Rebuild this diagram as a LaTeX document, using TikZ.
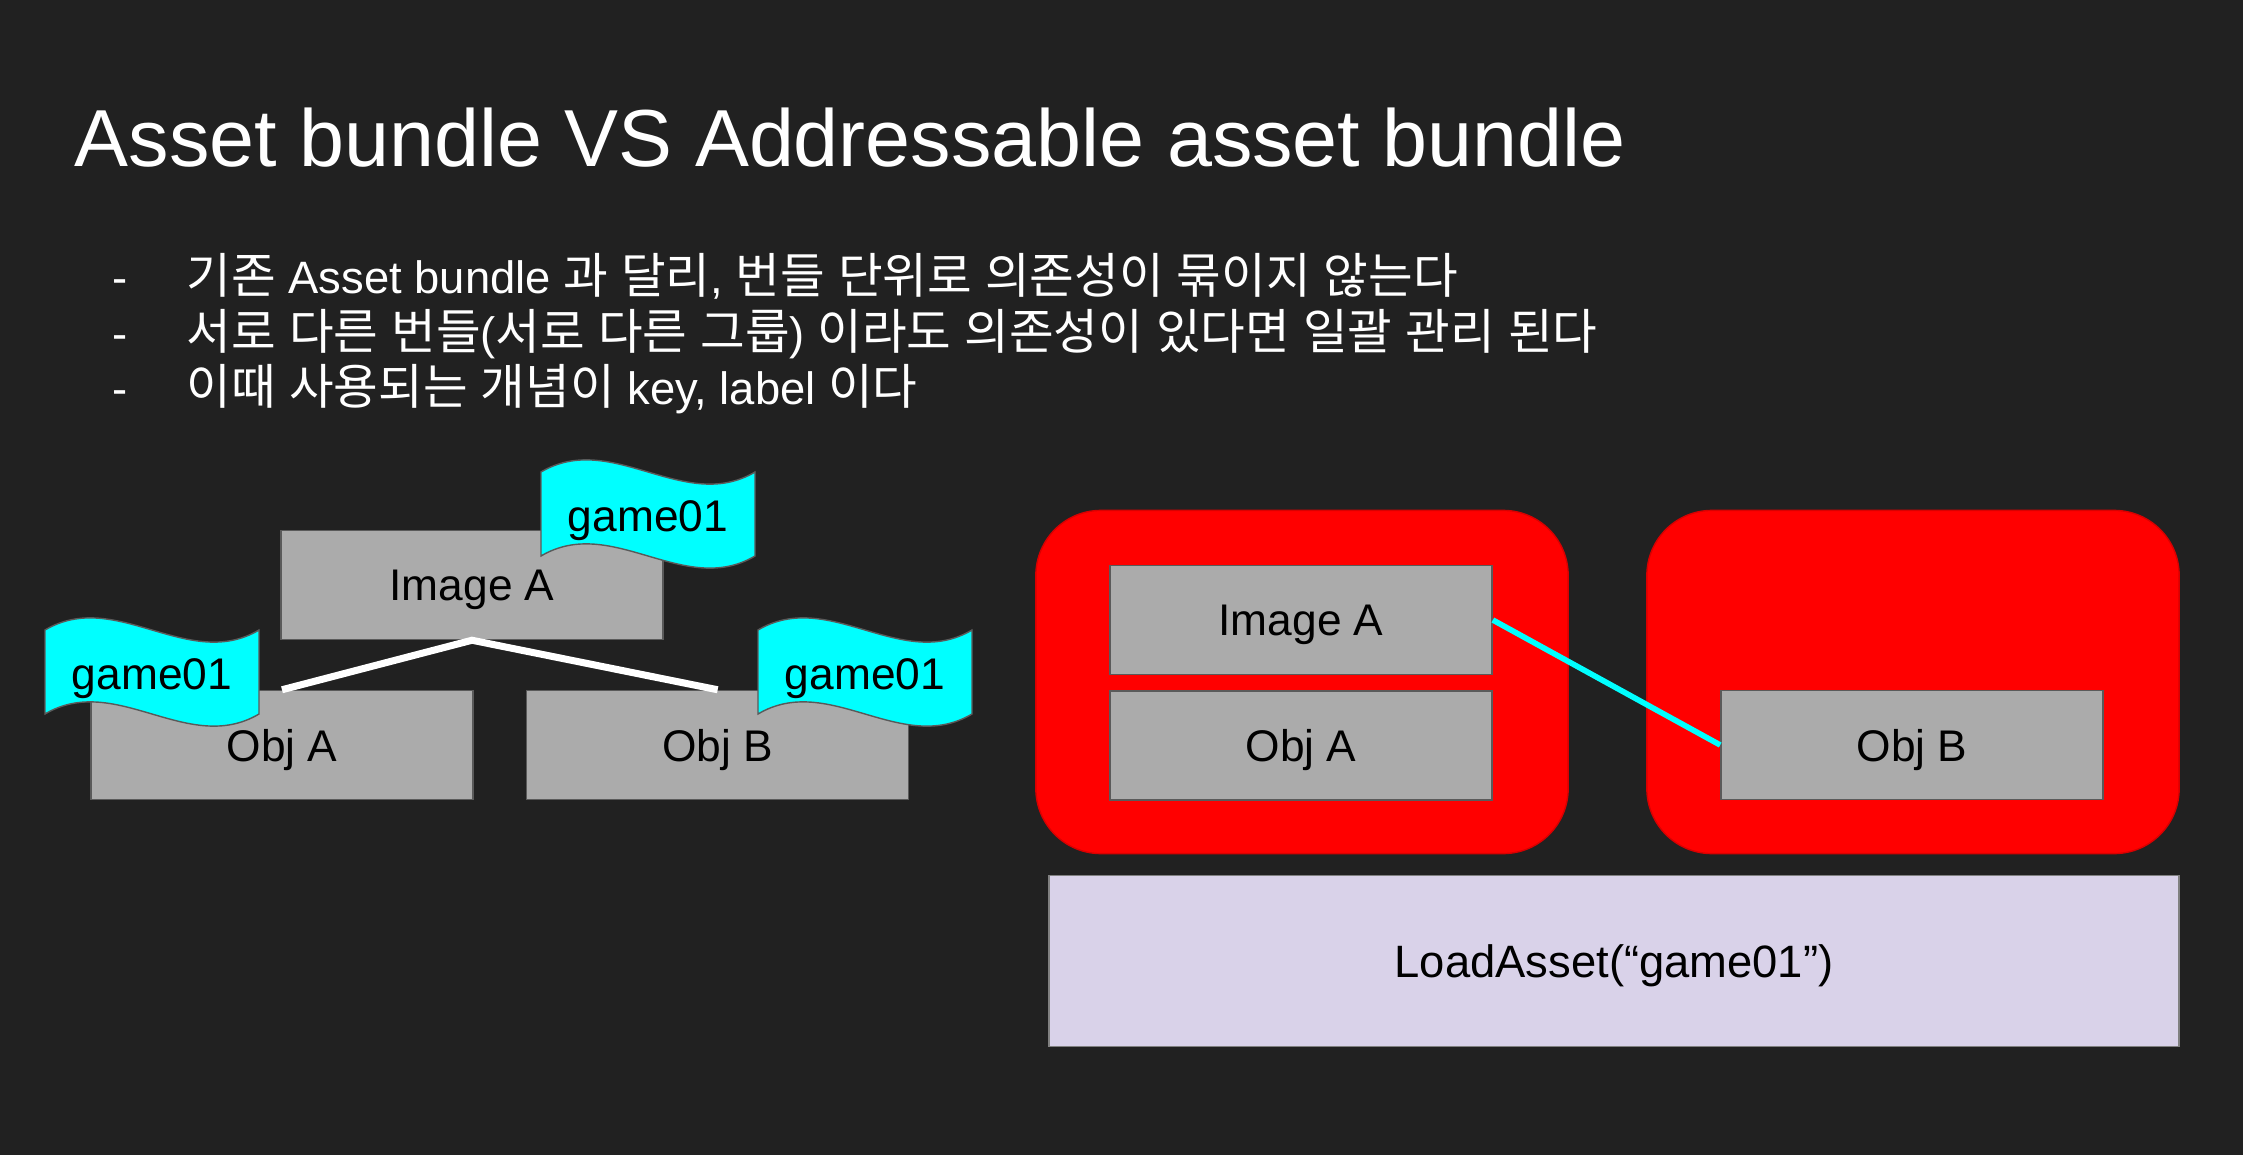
\documentclass[tikz,border=0pt]{standalone}
\usepackage{fontspec}
\setmainfont{Liberation Sans}
\newfontfamily\krfont[Scale=1.07, WordSpace=1.2]{Noto Sans CJK KR}
\usetikzlibrary{positioning}
\definecolor{slidebg}{HTML}{212121}
\definecolor{boxgray}{HTML}{ABABAB}
\definecolor{boxline}{HTML}{5A5A5A}
\definecolor{tagcyan}{HTML}{00FFFF}
\definecolor{groupred}{HTML}{FF0000}
\definecolor{loadfill}{HTML}{D9D2E9}

\begin{document}
\begin{tikzpicture}[
    x=0.01cm, y=-0.01cm,
    node distance=0.15cm,
    obj/.style={rectangle, draw=boxline, fill=boxgray, minimum width=3.82cm, minimum height=1.09cm, inner sep=0pt, text depth=0pt, font=\fontsize{12.6}{15}\selectfont},
    grp/.style={rectangle, rounded corners=0.65cm, draw=red!85!black, fill=groupred, minimum width=5.32cm, minimum height=3.43cm},
    load/.style={rectangle, draw=gray, fill=loadfill, minimum width=11.29cm, minimum height=1.71cm, inner sep=0pt, text depth=0pt, font=\fontsize{12.9}{15}\selectfont},
    tag/.style={draw=boxline, fill=tagcyan, line width=0.4pt},
    dep/.style={draw=white, line width=2pt},
    link/.style={draw=tagcyan, line width=1.6pt},
    item/.style={text=white, anchor=base west, inner sep=0pt, font=\fontsize{12.9}{16}\selectfont},
  ]
    % slide background
    \fill[slidebg] (0,0) rectangle (2243,1155);

    % title and bullet list
    \node[anchor=base west, inner sep=0pt, text=white, font=\fontsize{23}{28}\selectfont] (title) at (74,167) {Asset bundle VS Addressable asset bundle};
    \node[item] (dash1) at (112,294) {-};
    \node[item] (line1) at (186,294) {{\krfont 기존} Asset bundle {\krfont 과 달리}, {\krfont 번들 단위로 의존성이 묶이지 않는다}};
    \node[item] (dash2) at (112,350) {-};
    \node[item] (line2) at (186,350) {{\krfont 서로 다른 번들}({\krfont 서로 다른 그룹}) {\krfont 이라도 의존성이 있다면 일괄 관리 된다}};
    \node[item] (dash3) at (112,405) {-};
    \node[item] (line3) at (186,405) {{\krfont 이때 사용되는 개념이} key, label {\krfont 이다}};

    % asset bundle: dependency tree
    \node[obj] (imgA) at (472,585) {Image A};
    \node[obj] (objA) at (282,745) {Obj A};
    \node[obj, right=0.52cm of objA] (objB) {Obj B};
    \draw[dep] (objA.north) -- (imgA.south) -- (objB.north);

    % labels on each asset
    \foreach \n/\cx/\cy in {tagImg/648/514, tagA/152/672, tagB/865/672} {
      \draw[tag] (\cx-107,\cy-42) .. controls (\cx-36,\cy-84) and (\cx+36,\cy) .. (\cx+107,\cy-42)
        -- (\cx+107,\cy+42) .. controls (\cx+36,\cy+84) and (\cx-36,\cy) .. (\cx-107,\cy+42) -- cycle;
      \node[inner sep=0pt, text depth=0pt, font=\fontsize{12.6}{15}\selectfont] (\n) at (\cx,\cy+2) {game01};
    }

    % addressable: groups
    \node[grp] (grp1) at (1302,682) {};
    \node[grp] (grp2) at (1913,682) {};
    \node[obj] (imgA2) at (1301,620) {Image A};
    \node[obj, below=of imgA2] (objA2) {Obj A};
    \node[obj] (objB2) at (1912,745) {Obj B};
    \draw[link] (imgA2.east) -- (objB2.west);

    % load call
    \node[load] (loadcall) at (1614,961) {LoadAsset(“game01”)};
  \end{tikzpicture}
\end{document}
